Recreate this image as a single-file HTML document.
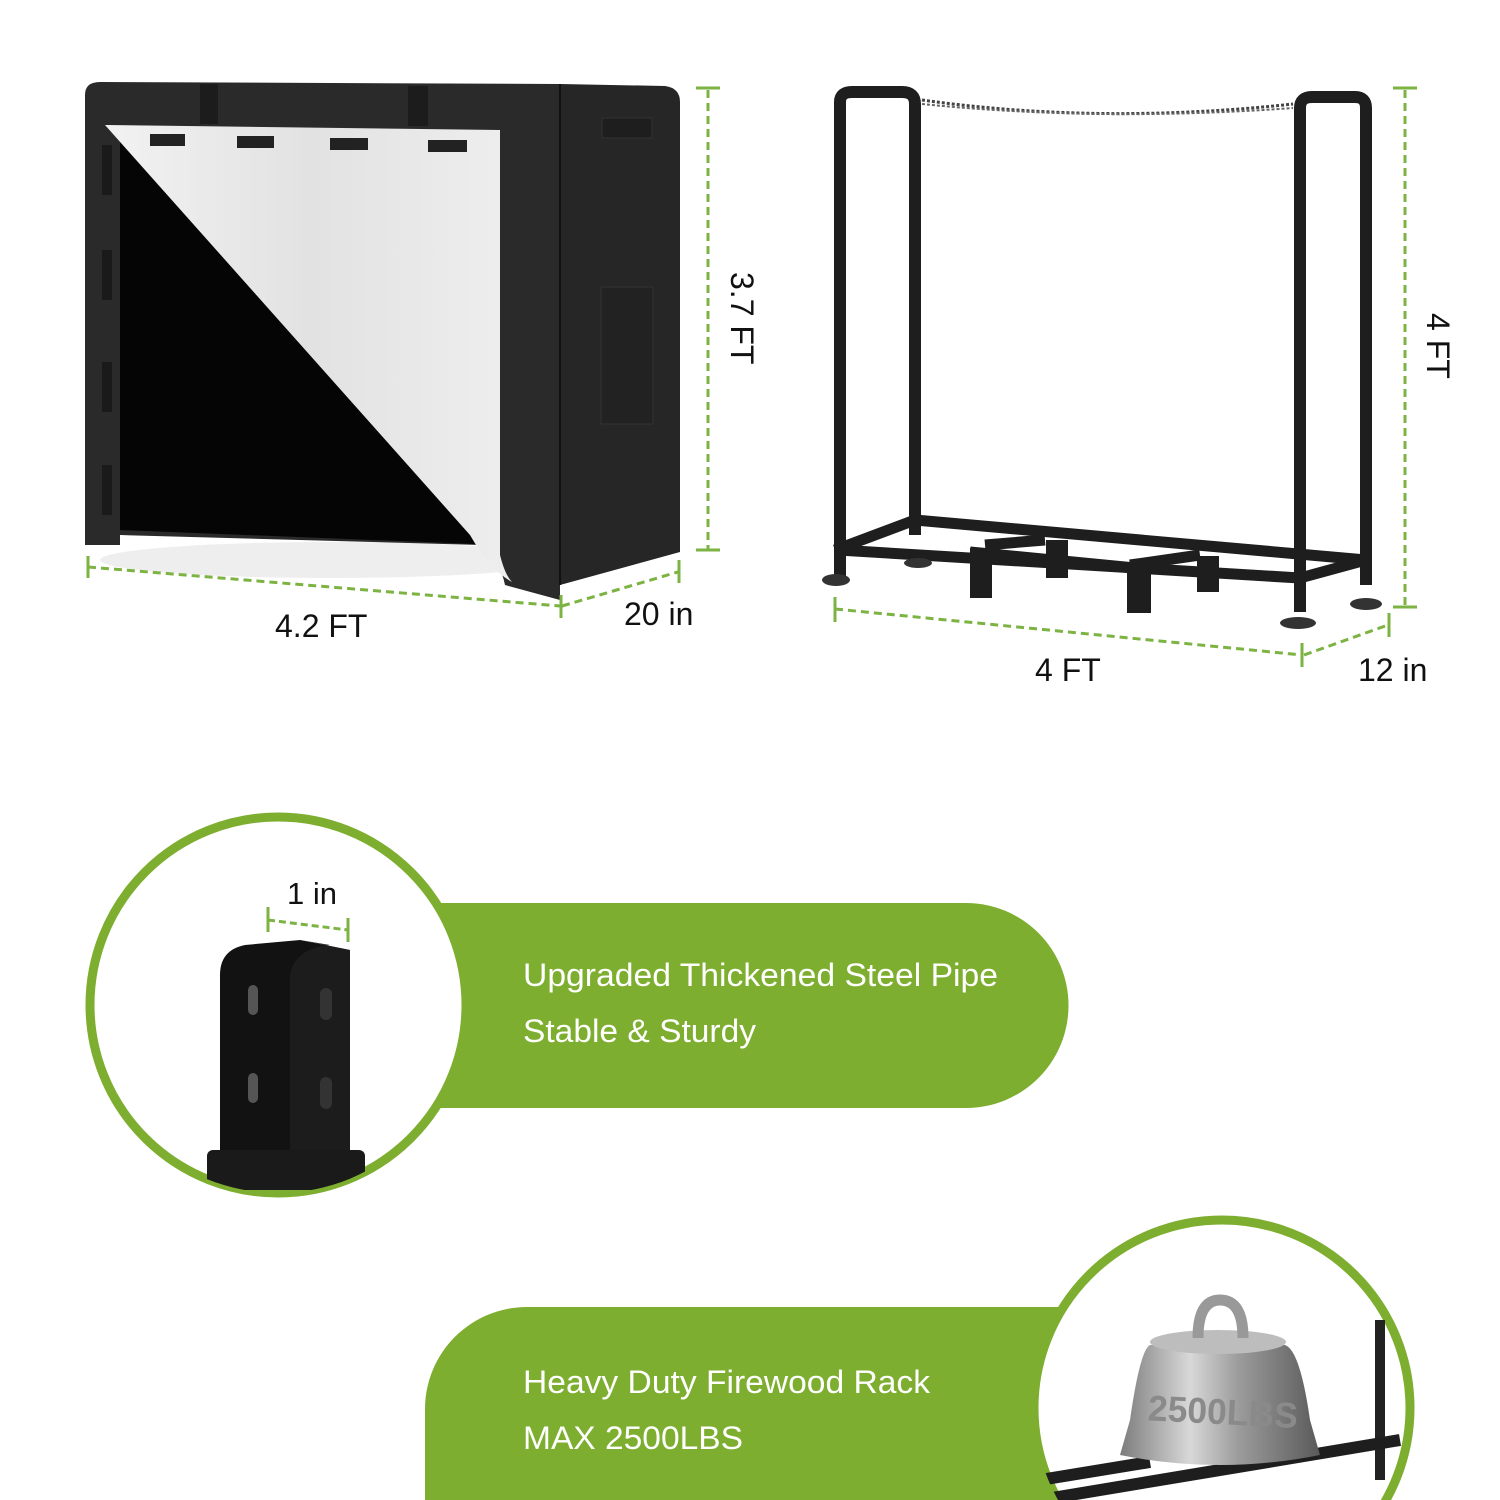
<!DOCTYPE html>
<html><head><meta charset="utf-8"><style>
html,body{margin:0;padding:0;background:#fff;width:1500px;height:1500px;overflow:hidden}
svg{display:block}
text{font-family:"Liberation Sans",sans-serif}
</style></head><body>
<svg width="1500" height="1500" viewBox="0 0 1500 1500" xmlns="http://www.w3.org/2000/svg">
<defs>
<linearGradient id="wt" x1="0" x2="1"><stop offset="0" stop-color="#f2f2f2"/><stop offset="0.5" stop-color="#e2e2e2"/><stop offset="1" stop-color="#eeeeee"/></linearGradient>
<linearGradient id="steel" x1="0" x2="1"><stop offset="0" stop-color="#7c7c7c"/><stop offset="0.35" stop-color="#d8d8d8"/><stop offset="0.6" stop-color="#9a9a9a"/><stop offset="1" stop-color="#5a5a5a"/></linearGradient>
<clipPath id="c2"><circle cx="1222" cy="1408" r="188"/></clipPath>
<clipPath id="c1"><circle cx="278" cy="1005" r="188"/></clipPath>
</defs>
<!-- COVER -->
<ellipse cx="330" cy="560" rx="230" ry="18" fill="#eee"/>
<path d="M85 95 Q85 82 100 82 L560 84 L560 600 L505 585 Q500 560 480 545 L120 535 L120 545 L85 545 Z" fill="#2a2a2a"/>
<path d="M560 84 L665 86 Q680 88 680 102 L680 552 L560 585 Z" fill="#262626"/>
<path d="M560 84 L560 585" stroke="#111" stroke-width="2"/>
<rect x="200" y="84" width="18" height="40" fill="#1c1c1c"/>
<rect x="408" y="86" width="20" height="40" fill="#1c1c1c"/>
<rect x="602" y="118" width="50" height="20" fill="#1e1e1e" stroke="#333"/>
<rect x="601" y="287" width="52" height="137" fill="#222" stroke="#333"/>
<polygon points="120,140 500,145 500,545 120,530" fill="#050505"/>
<rect x="102" y="145" width="10" height="50" fill="#1a1a1a"/><rect x="102" y="250" width="10" height="50" fill="#1a1a1a"/><rect x="102" y="362" width="10" height="50" fill="#1a1a1a"/><rect x="102" y="465" width="10" height="50" fill="#1a1a1a"/>
<path d="M105 125 L500 130 L500 555 Q505 575 512 582 Q490 570 470 535 Z" fill="url(#wt)"/>
<rect x="150" y="134" width="35" height="12" fill="#222"/><rect x="237" y="136" width="37" height="12" fill="#222"/><rect x="330" y="138" width="38" height="12" fill="#222"/><rect x="428" y="140" width="39" height="12" fill="#222"/>
<!-- cover dims -->
<g stroke="#7cb342" stroke-width="3" fill="none">
<path d="M708 90 L708 550" stroke-dasharray="8 5"/><path d="M696 88 L720 88 M696 550 L720 550"/>
<path d="M88 567 L560 606" stroke-dasharray="8 5"/><path d="M88 556 L88 578 M561 595 L561 618"/>
<path d="M562 606 L678 572" stroke-dasharray="8 5"/><path d="M679 560 L679 583"/>
</g>
<text x="275" y="637" font-size="32" fill="#111">4.2 FT</text>
<text x="624" y="625" font-size="32" fill="#111">20 in</text>
<text x="0" y="0" font-size="32" fill="#111" transform="translate(731,272) rotate(90)">3.7 FT</text>
<!-- RACK -->
<g fill="none" stroke="#1e1e1e" stroke-width="12" stroke-linejoin="round">
<path d="M840 578 L840 102 Q840 92 852 92 L902 92 Q915 92 915 104 L915 535"/>
<path d="M1300 612 L1300 108 Q1300 97 1312 97 L1355 97 Q1366 97 1366 108 L1366 585"/>
</g>
<path d="M922 100 Q1100 125 1293 104" stroke="#444" stroke-width="3" fill="none" stroke-dasharray="3 2"/>
<path d="M922 104 Q1100 122 1293 108" stroke="#666" stroke-width="2" fill="none" stroke-dasharray="3 2"/>
<g stroke="#1e1e1e" stroke-width="11" fill="none">
<path d="M838 550 L1300 578 M915 520 L1366 560 M835 550 L915 520 M1300 578 L1366 560"/>
<path d="M985 545 L1045 540 M1130 565 L1200 555 M970 552 L1135 568"/>
</g>
<g fill="#1e1e1e">
<rect x="970" y="548" width="22" height="50"/><rect x="1046" y="540" width="22" height="38"/><rect x="1127" y="565" width="24" height="48"/><rect x="1197" y="556" width="22" height="36"/>
</g>
<g fill="#333"><ellipse cx="836" cy="580" rx="14" ry="6"/><ellipse cx="918" cy="563" rx="14" ry="5"/><ellipse cx="1298" cy="623" rx="18" ry="6"/><ellipse cx="1366" cy="604" rx="16" ry="6"/></g>
<g stroke="#7cb342" stroke-width="3" fill="none">
<path d="M1405 90 L1405 606" stroke-dasharray="8 5"/><path d="M1393 88 L1417 88 M1393 607 L1417 607"/>
<path d="M835 609 L1302 655" stroke-dasharray="8 5"/><path d="M835 597 L835 622 M1302 643 L1302 667"/>
<path d="M1304 655 L1388 625" stroke-dasharray="8 5"/><path d="M1389 613 L1389 637"/>
</g>
<text x="1035" y="681" font-size="32" fill="#111">4 FT</text>
<text x="1358" y="681" font-size="32" fill="#111">12 in</text>
<text x="0" y="0" font-size="32" fill="#111" transform="translate(1427,313) rotate(90)">4 FT</text>
<!-- PILL 1 -->
<path d="M440 903 L966 903 A102 102 0 0 1 966 1108 L440 1108 Z" fill="#7dae2f"/>
<circle cx="278" cy="1005" r="188" fill="#fff" stroke="#7dae2f" stroke-width="9"/>
<g clip-path="url(#c1)">
<path d="M220 1150 L220 975 Q220 950 245 945 L300 940 L350 950 L350 1150 Z" fill="#121212"/>
<path d="M300 940 L350 950 L350 1150 L290 1150 L290 975 Q295 948 330 945 Z" fill="#1c1c1c"/>
<rect x="248" y="985" width="10" height="30" rx="5" fill="#555"/><rect x="248" y="1073" width="10" height="30" rx="5" fill="#555"/>
<rect x="320" y="988" width="12" height="32" rx="6" fill="#333"/><rect x="320" y="1077" width="12" height="32" rx="6" fill="#333"/>
<rect x="207" y="1150" width="158" height="40" rx="6" fill="#1a1a1a"/>
</g>
<g stroke="#7cb342" stroke-width="3" fill="none"><path d="M268 920 L348 930" stroke-dasharray="7 4"/><path d="M268 907 L268 932 M348 918 L348 942"/></g>
<text x="287" y="904" font-size="31" fill="#111">1 in</text>
<text x="523" y="986" font-size="32" fill="#fff" textLength="475" lengthAdjust="spacingAndGlyphs">Upgraded Thickened Steel Pipe</text>
<text x="523" y="1042" font-size="32" fill="#fff" textLength="233" lengthAdjust="spacingAndGlyphs">Stable &amp; Sturdy</text>
<!-- PILL 2 -->
<path d="M1120 1307 L527 1307 A102 102 0 0 0 425 1409 L425 1500 L1120 1500 Z" fill="#7dae2f"/>
<circle cx="1222" cy="1408" r="188" fill="#fff" stroke="#7dae2f" stroke-width="9"/>
<g clip-path="url(#c2)">
<path d="M1380 1320 L1380 1480" stroke="#222" stroke-width="10"/>
<path d="M1040 1500 L1400 1440 M1040 1480 L1150 1462" stroke="#1e1e1e" stroke-width="12"/>
<path d="M1150 1345 L1285 1345 Q1300 1350 1310 1420 L1320 1455 Q1220 1475 1120 1455 L1130 1420 Q1140 1350 1150 1345 Z" fill="url(#steel)"/>
<ellipse cx="1218" cy="1342" rx="68" ry="12" fill="#bdbdbd"/>
<path d="M1198 1338 Q1198 1300 1220 1300 Q1243 1300 1243 1338" stroke="#999" stroke-width="11" fill="none"/>
<text x="1148" y="1424" font-size="36" font-weight="bold" fill="#8a8a8a" transform="rotate(3 1220 1410)" textLength="150" lengthAdjust="spacingAndGlyphs">2500LBS</text>
</g>
<text x="523" y="1393" font-size="32" fill="#fff" textLength="407" lengthAdjust="spacingAndGlyphs">Heavy Duty Firewood Rack</text>
<text x="523" y="1449" font-size="32" fill="#fff" textLength="220" lengthAdjust="spacingAndGlyphs">MAX 2500LBS</text>
</svg>
</body></html>
